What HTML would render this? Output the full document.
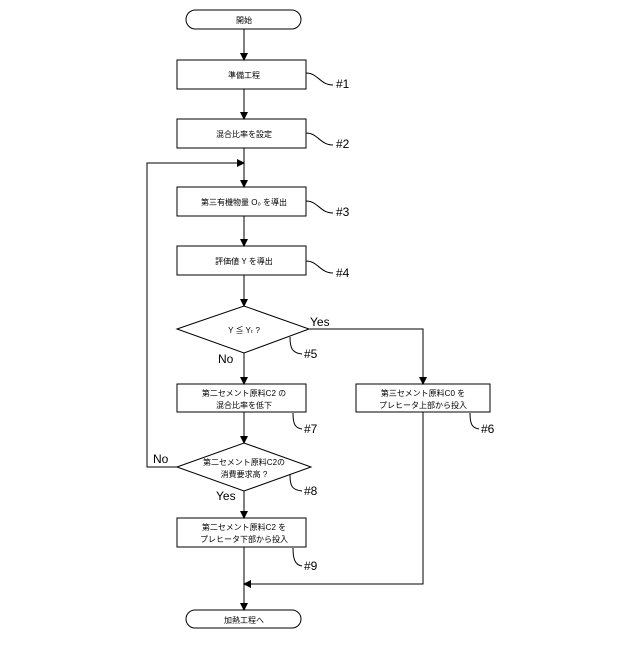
<!DOCTYPE html>
<html><head><meta charset="utf-8"><style>
body{margin:0;background:#fff}
svg text{font-family:"Liberation Sans","Noto Sans CJK JP",sans-serif;fill:#000}
.j{font-size:8px}
.l{font-size:12px}
</style></head><body>
<svg width="640" height="640" viewBox="0 0 640 640" xmlns="http://www.w3.org/2000/svg">
<defs><marker id="a" markerWidth="8" markerHeight="8" refX="7" refY="4" orient="auto" markerUnits="userSpaceOnUse"><path d="M0,0 L8,4 L0,8z" fill="#000"/></marker></defs>
<g fill="none" stroke="#000" stroke-width="1">
<rect x="186" y="10" width="115" height="19" rx="9.5" fill="#fff"/>
<rect x="177" y="60" width="129" height="29" fill="#fff"/>
<rect x="177" y="119" width="129" height="29" fill="#fff"/>
<rect x="177" y="187" width="129" height="29" fill="#fff"/>
<rect x="177" y="246" width="129" height="29" fill="#fff"/>
<polygon points="177,329 244,306 309,329 244,353" fill="#fff"/>
<rect x="177" y="384" width="129" height="28" fill="#fff"/>
<rect x="356" y="384" width="134" height="28" fill="#fff"/>
<polygon points="177,467 244,443 311,467 244,491" fill="#fff"/>
<rect x="177" y="518" width="129" height="29" fill="#fff"/>
<rect x="186" y="610" width="115" height="18" rx="9" fill="#fff"/>
<line x1="244" y1="29" x2="244" y2="60" marker-end="url(#a)"/>
<line x1="244" y1="89" x2="244" y2="119" marker-end="url(#a)"/>
<line x1="244" y1="148" x2="244" y2="187" marker-end="url(#a)"/>
<line x1="244" y1="216" x2="244" y2="246" marker-end="url(#a)"/>
<line x1="244" y1="275" x2="244" y2="306" marker-end="url(#a)"/>
<line x1="244" y1="353" x2="244" y2="384" marker-end="url(#a)"/>
<line x1="244" y1="412" x2="244" y2="443" marker-end="url(#a)"/>
<line x1="244" y1="491" x2="244" y2="518" marker-end="url(#a)"/>
<line x1="244" y1="547" x2="244" y2="610" marker-end="url(#a)"/>
<polyline points="309,329 423,329 423,384" marker-end="url(#a)"/>
<polyline points="423,412 423,584 244,584" marker-end="url(#a)"/>
<polyline points="177,467 147,467 147,163 244,163" marker-end="url(#a)"/>
<path d="M306,73 C318,73 320,85 333,85"/>
<path d="M306,133 C318,133 320,145 333,145"/>
<path d="M306,201 C318,201 320,213 333,213"/>
<path d="M306,261 C318,261 320,273 333,273"/>
<path d="M290,337 C290,348 292,353 302,354"/>
<path d="M293,413 C293,424 295,428 302,429"/>
<path d="M470,413 C470,424 472,428 479,429"/>
<path d="M290,475 C290,486 292,490 302,491"/>
<path d="M293,548 C293,559 295,565 302,566"/>
</g>
<g class="j" text-anchor="middle">
<text x="244" y="23">開始</text>
<text x="244" y="78">準備工程</text>
<text x="244" y="137">混合比率を設定</text>
<text x="244" y="205">第三有機物量 O₀ を導出</text>
<text x="244" y="264">評価値 Y を導出</text>
<text x="244" y="333">Y ≦ Yₜ ?</text>
<text x="244" y="396">第二セメント原料C2 の</text>
<text x="244" y="408">混合比率を低下</text>
<text x="423" y="396">第三セメント原料C0 を</text>
<text x="423" y="408">プレヒータ上部から投入</text>
<text x="244" y="465">第二セメント原料C2の</text>
<text x="244" y="477">消費要求高 ?</text>
<text x="244" y="530">第二セメント原料C2 を</text>
<text x="244" y="542">プレヒータ下部から投入</text>
<text x="244" y="623">加熱工程へ</text>
</g>
<g class="l">
<text x="336" y="88">#1</text>
<text x="336" y="148">#2</text>
<text x="336" y="216">#3</text>
<text x="336" y="277">#4</text>
<text x="304" y="358">#5</text>
<text x="304" y="433">#7</text>
<text x="481" y="433">#6</text>
<text x="304" y="495">#8</text>
<text x="304" y="570">#9</text>
<text x="310" y="326">Yes</text>
<text x="218" y="363">No</text>
<text x="153" y="463">No</text>
<text x="216" y="500">Yes</text>
</g>
</svg>
</body></html>
